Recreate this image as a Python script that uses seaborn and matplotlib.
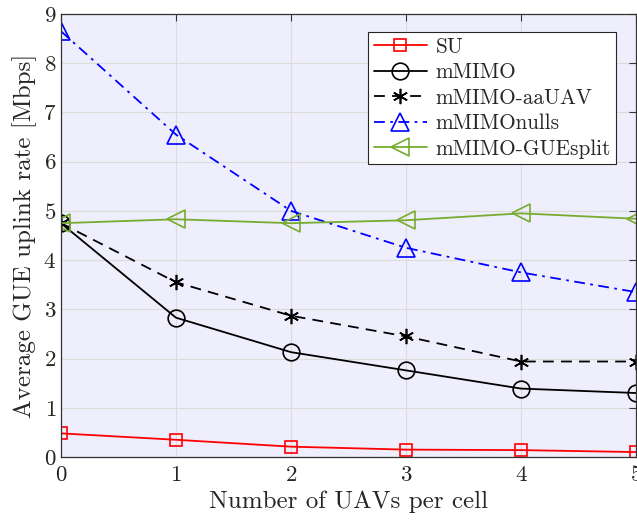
import numpy as np
import pandas as pd
import matplotlib
matplotlib.use("Agg")
import matplotlib.pyplot as plt
import seaborn as sns

# x: number of UAVs per cell
n_uavs = [0, 1, 2, 3, 4, 5]

su = [0.48, 0.35, 0.21, 0.15, 0.14, 0.10]
mmimo = [4.75, 2.83, 2.13, 1.76, 1.39, 1.30]
mmimo_aauav = [4.75, 3.55, 2.87, 2.45, 1.94, 1.94]
mmimo_nulls = [8.65, 6.55, 5.00, 4.25, 3.75, 3.35]
mmimo_guesplit = [4.75, 4.83, 4.75, 4.81, 4.95, 4.84]

series_names = ["SU", "mMIMO", "mMIMO-aaUAV", "mMIMOnulls", "mMIMO-GUEsplit"]
series_vals = [su, mmimo, mmimo_aauav, mmimo_nulls, mmimo_guesplit]

df = pd.DataFrame({
    "x": n_uavs * len(series_names),
    "y": sum(series_vals, []),
    "scheme": np.repeat(series_names, len(n_uavs)),
})

sns.set_theme(style="white")
plt.rcParams["font.family"] = ["cmr10", "DejaVu Serif"]
plt.rcParams["axes.formatter.use_mathtext"] = True

styles = {
    "SU": dict(color="#ff0000", marker="s", ls="-", ms=9),
    "mMIMO": dict(color="black", marker="o", ls="-", ms=12),
    "mMIMO-aaUAV": dict(color="black", marker=(6, 2, 0), ls=(0, (6, 4)), ms=11),
    "mMIMOnulls": dict(color="#0000ff", marker="^", ls=(0, (6, 3, 1.5, 3)), ms=13),
    "mMIMO-GUEsplit": dict(color="#77ac30", marker="<", ls="-", ms=13),
}

fig = plt.figure(figsize=(6.37, 5.27), dpi=100)
ax = fig.add_axes([61 / 637, 70 / 527, 575 / 637, 443 / 527])
ax.set_facecolor("#eeeefc")

for name in series_names:
    st = styles[name]
    sub = df[df["scheme"] == name]
    sns.lineplot(data=sub, x="x", y="y", ax=ax, color=st["color"], lw=1.3,
                 linestyle=st["ls"], marker=st["marker"], markersize=st["ms"],
                 markerfacecolor="none", markeredgecolor=st["color"],
                 markeredgewidth=1.2, label=name)

ax.set_xlim(0, 5)
ax.set_ylim(0, 9)
ax.set_xticks(range(0, 6))
ax.set_yticks(range(0, 10))
ax.grid(True, color="#dcdcdc", lw=0.8)
ax.tick_params(direction="in", length=5, width=0.8, colors="#333333",
               labelsize=16.5, top=True, right=True, labelcolor="#262626")
ax.tick_params(axis="x", pad=6)
for sp in ax.spines.values():
    sp.set_color("#333333")
    sp.set_linewidth(0.9)
for lab in ax.get_xticklabels() + ax.get_yticklabels():
    lab.set_clip_on(False)

ax.set_xlabel("Number of UAVs per cell", fontsize=18, color="#262626", labelpad=4)
ax.set_ylabel("Average GUE uplink rate [Mbps]", fontsize=18, color="#262626", labelpad=4)

leg = ax.legend(loc="upper right", bbox_to_anchor=(1 - 20 / 575, 1 - 18 / 443),
                fontsize=15.3, frameon=True, fancybox=False, framealpha=1,
                edgecolor="#262626", handlelength=2.5, borderpad=0.25,
                labelspacing=0.28, handletextpad=0.4, borderaxespad=0)
leg.get_frame().set_linewidth(0.8)

fig.savefig("out.png", dpi=100)
